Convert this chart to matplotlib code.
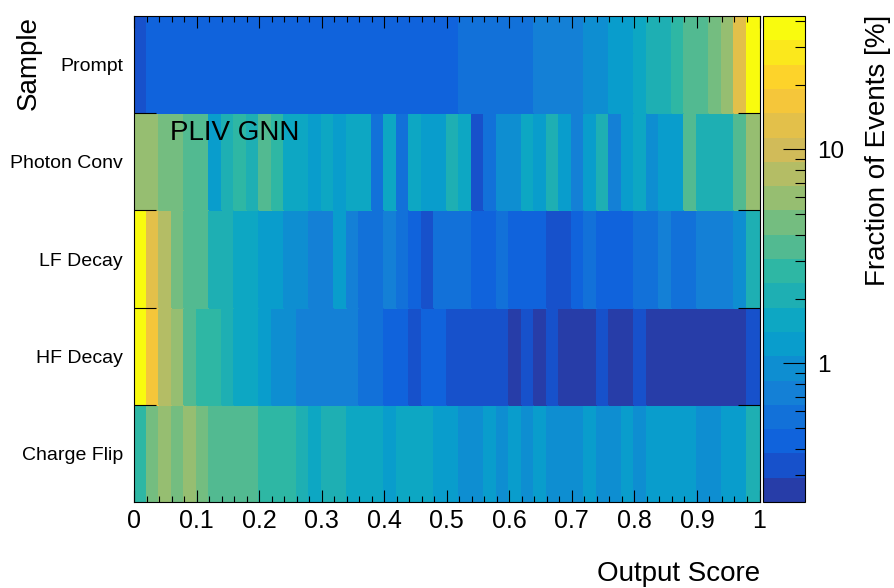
import numpy as np
import matplotlib
matplotlib.use("Agg")
import matplotlib.pyplot as plt
from matplotlib import ticker
from matplotlib.colors import LinearSegmentedColormap, ListedColormap, LogNorm

plt.rcParams['font.family'] = ['Liberation Sans', 'DejaVu Sans']

# rows top -> bottom
samples = ["Prompt", "Photon Conv", "LF Decay", "HF Decay", "Charge Flip"]
x_ticks = [0.0, 0.1, 0.2, 0.3, 0.4, 0.5, 0.6, 0.7, 0.8, 0.9, 1.0]
cbar_ticks = [1, 10]

# fraction of events [%] per output score bin (50 bins of 0.02)
prompt = [0.33, 0.42, 0.44, 0.43, 0.45, 0.44, 0.43, 0.42, 0.44, 0.45,
          0.43, 0.44, 0.42, 0.43, 0.45, 0.44, 0.43, 0.44, 0.42, 0.43,
          0.45, 0.44, 0.46, 0.44, 0.45, 0.47, 0.52, 0.55, 0.57, 0.58,
          0.61, 0.63, 0.68, 0.72, 0.75, 0.78, 0.90, 0.98, 1.15, 1.28,
          1.55, 1.95, 2.2, 2.7, 3.3, 3.7, 4.6, 6.0, 13.2, 41.5]
photon_conv = [5.9, 5.6, 4.6, 4.3, 3.6, 3.3, 1.25, 2.1, 2.6, 2.0,
               3.4, 2.5, 1.6, 1.55, 1.2, 1.65, 1.25, 1.6, 1.55, 0.58,
               1.6, 0.56, 1.55, 1.2, 1.25, 2.0, 1.6, 0.33, 0.57, 0.92,
               0.96, 1.5, 1.2, 2.1, 1.25, 0.74, 1.2, 2.0, 0.72, 1.25,
               1.55, 0.95, 1.2, 1.3, 3.4, 2.1, 2.0, 2.2, 3.5, 5.8]
lf_decay = [37.5, 13.0, 7.6, 4.5, 3.6, 3.3, 2.1, 2.0, 1.6, 1.55,
            1.25, 1.2, 0.95, 0.92, 0.74, 0.72, 1.15, 0.7, 0.58, 0.55,
            0.72, 0.56, 0.44, 0.33, 0.57, 0.55, 0.56, 0.45, 0.43, 0.55,
            0.44, 0.42, 0.45, 0.34, 0.32, 0.44, 0.56, 0.43, 0.45, 0.44,
            0.57, 0.55, 0.7, 0.58, 0.56, 0.73, 0.72, 0.75, 0.95, 2.0]
hf_decay = [40.5, 16.5, 7.5, 5.8, 3.5, 2.7, 2.6, 2.1, 1.6, 1.55,
            1.2, 0.95, 0.9, 0.75, 0.72, 0.7, 0.73, 0.68, 0.58, 0.55,
            0.44, 0.43, 0.33, 0.45, 0.42, 0.34, 0.33, 0.32, 0.34, 0.31,
            0.26, 0.31, 0.27, 0.32, 0.26, 0.27, 0.25, 0.31, 0.26, 0.27,
            0.30, 0.26, 0.25, 0.27, 0.26, 0.25, 0.27, 0.26, 0.25, 0.32]
charge_flip = [2.6, 4.4, 5.6, 4.5, 5.5, 4.4, 3.5, 3.6, 3.4, 3.5,
               2.7, 2.6, 2.7, 2.1, 1.65, 2.0, 2.1, 1.6, 1.55, 1.6,
               1.25, 1.6, 1.55, 1.5, 1.2, 1.25, 0.95, 0.92, 1.2, 0.94,
               1.2, 0.93, 1.2, 0.95, 0.92, 0.96, 1.2, 0.94, 0.93, 1.2,
               0.95, 1.25, 1.2, 1.2, 1.25, 0.92, 0.95, 1.2, 1.25, 2.0]

z_min, z_max = 0.225, 42.0
n_levels = 20

# ROOT kBird palette
bird_stops = [0.0, 0.125, 0.25, 0.375, 0.5, 0.625, 0.75, 0.875, 1.0]
bird_r = [0.2082, 0.0592, 0.0780, 0.0232, 0.1802, 0.5301, 0.8186, 0.9956, 0.9764]
bird_g = [0.1664, 0.3599, 0.5041, 0.6419, 0.7178, 0.7492, 0.7328, 0.7862, 0.9832]
bird_b = [0.5293, 0.8684, 0.8385, 0.7914, 0.6425, 0.4662, 0.3499, 0.1968, 0.0539]
bird = LinearSegmentedColormap.from_list(
    "bird", list(zip(bird_stops, zip(bird_r, bird_g, bird_b))), N=255)
level_colors = [bird(int((k + 0.99) * 255 / n_levels) / 254) for k in range(n_levels)]
cmap = ListedColormap(level_colors)
norm = LogNorm(vmin=z_min, vmax=z_max)

data = np.array([charge_flip, hf_decay, lf_decay, photon_conv, prompt])
x_edges = np.linspace(0, 1, data.shape[1] + 1)
y_edges = np.arange(data.shape[0] + 1)

fig = plt.figure(figsize=(8.95, 5.88), dpi=100)
ax = fig.add_axes([134 / 895, 86 / 588, 625.5 / 895, 486 / 588])
mesh = ax.pcolormesh(x_edges, y_edges, data, cmap=cmap, norm=norm,
                     shading='flat', edgecolors='face', linewidth=0.3)

ax.set_xlim(0, 1)
ax.set_ylim(0, len(samples))
ax.set_xticks(x_ticks)
ax.set_xticklabels(['%g' % t for t in x_ticks])
ax.xaxis.set_minor_locator(ticker.MultipleLocator(0.02))
ax.tick_params(axis='x', which='both', direction='in', top=True, bottom=True,
               labelsize=18, pad=5, width=0.8)
ax.tick_params(axis='x', which='major', length=8.6)
ax.tick_params(axis='x', which='minor', length=4.3)

ax.set_yticks(np.arange(len(samples)) + 0.5)
ax.set_yticklabels(samples[::-1])
ax.set_yticks(np.arange(1, len(samples)), minor=True)
ax.tick_params(axis='y', which='major', length=0, pad=8, labelsize=14)
ax.tick_params(axis='y', which='minor', length=15.5, width=0.8,
               direction='in', left=True, right=True)
for s in ax.spines.values():
    s.set_linewidth(0.8)

ax.text(0.0576, 0.745, "PLIV GNN", transform=ax.transAxes, fontsize=20,
        ha='left', va='baseline')

cax = fig.add_axes([763.5 / 895, 86 / 588, 41.5 / 895, 486 / 588])
cb = fig.colorbar(mesh, cax=cax)
cb.outline.set_linewidth(0.8)
cb.set_ticks(cbar_ticks)
cb.set_ticklabels([str(t) for t in cbar_ticks])
cax.yaxis.set_minor_locator(ticker.LogLocator(base=10, subs=np.arange(2, 10), numticks=20))
cax.yaxis.set_minor_formatter(ticker.NullFormatter())
cax.tick_params(which='both', direction='in', right=True, left=False,
                labelsize=17.5, pad=9, width=0.8)
cax.tick_params(which='major', length=15.5)
cax.tick_params(which='minor', length=7.5)

fig.text(878 / 895, 1 - 15 / 588, "Fraction of Events [%]", rotation=90,
         ha='center', va='top', fontsize=20)
fig.text(29 / 895, 1 - 16 / 588, "Sample", rotation=90,
         ha='center', va='top', fontsize=20)
fig.text(760 / 895, 1 - 581 / 588, "Output Score", ha='right',
         va='baseline', fontsize=20)

fig.savefig("out.png", dpi=100)
